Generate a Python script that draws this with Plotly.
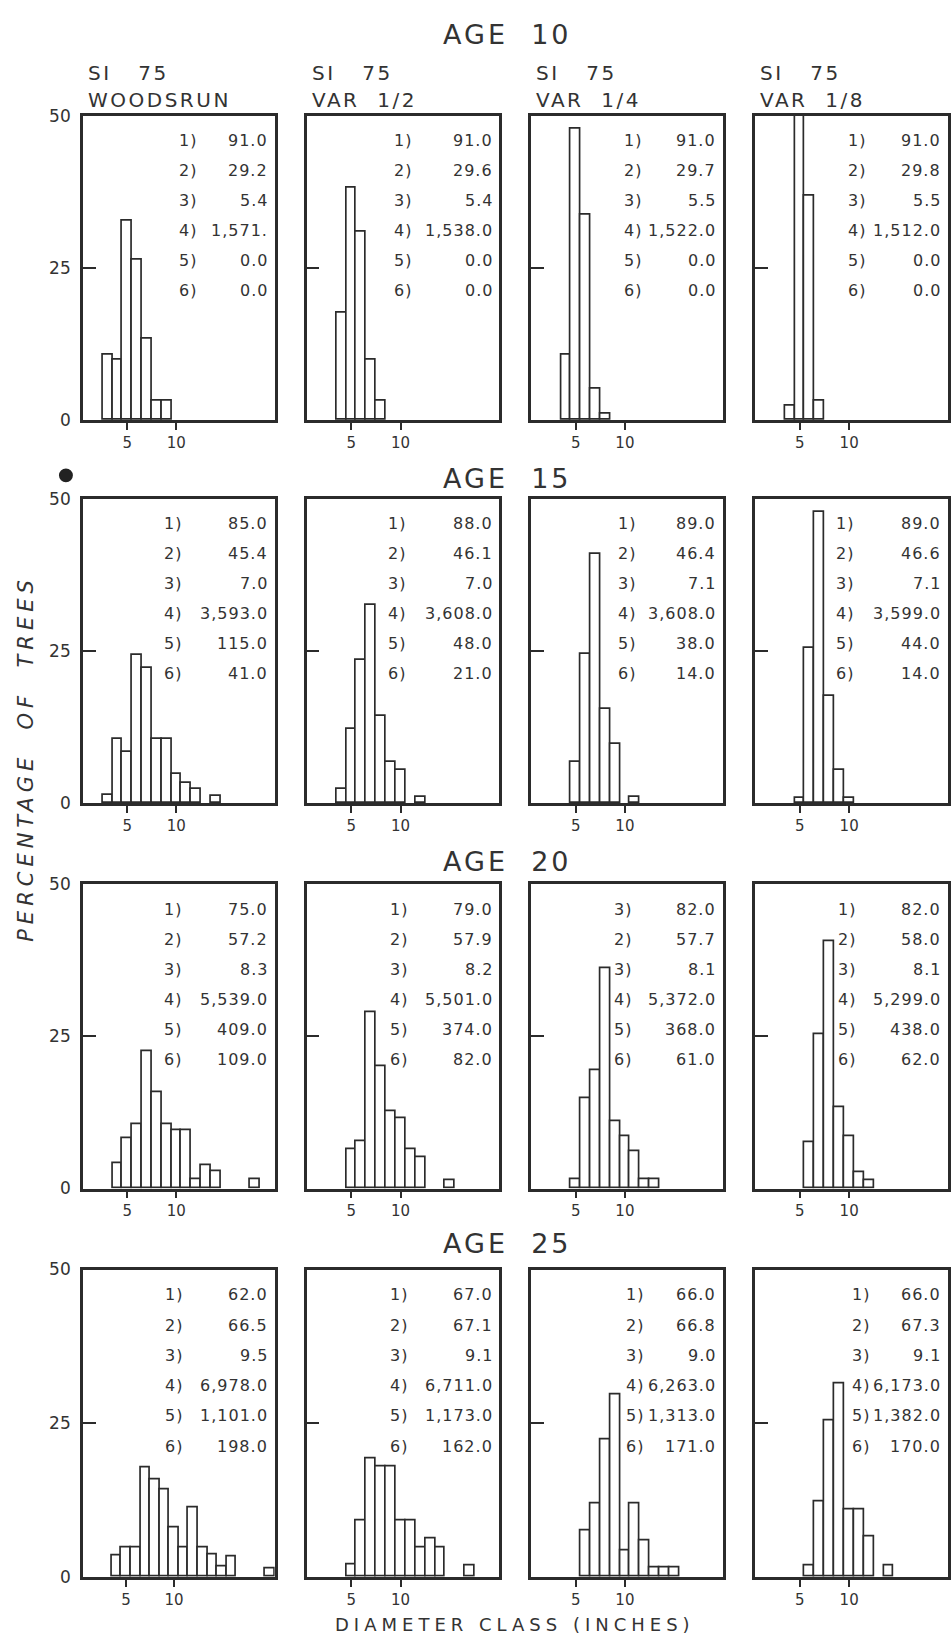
import plotly.graph_objects as go
from plotly.subplots import make_subplots

# ---------------- data ----------------
age_titles = ["AGE 10", "AGE 15", "AGE 20", "AGE 25"]
site_index = ["SI 75", "SI 75", "SI 75", "SI 75"]
run_names = ["WOODSRUN", "VAR 1/2", "VAR 1/4", "VAR 1/8"]
x_tick_vals = [5, 10]
x_tick_text = ["5", "10"]
y_tick_vals = [0, 25, 50]
y_tick_text = ["0", "25", "50"]
stat_keys = ["1)", "2)", "3)", "4)", "5)", "6)"]
stat_keys_age20_var4 = ["3)", "2)", "3)", "4)", "5)", "6)"]

# AGE 10 : diameter class (inches) / percentage of trees
age10_woodsrun_class = [3, 4, 5, 6, 7, 8, 9]
age10_woodsrun_pct = [10.8, 9.9, 32.8, 26.3, 13.3, 3.1, 3.1]
age10_var2_class = [4, 5, 6, 7, 8]
age10_var2_pct = [17.6, 38.2, 30.9, 9.9, 3.2]
age10_var4_class = [4, 5, 6, 7, 8]
age10_var4_pct = [10.8, 47.8, 33.7, 5.1, 1.1]
age10_var8_class = [4, 5, 6, 7]
age10_var8_pct = [2.4, 57.0, 36.9, 3.1]

# AGE 15
age15_woodsrun_class = [3, 4, 5, 6, 7, 8, 9, 10, 11, 12, 14]
age15_woodsrun_pct = [1.3, 10.6, 8.5, 24.4, 22.2, 10.5, 10.5, 4.8, 3.4, 2.4, 1.2]
age15_var2_class = [4, 5, 6, 7, 8, 9, 10, 12]
age15_var2_pct = [2.3, 12.2, 23.6, 32.5, 14.4, 6.8, 5.5, 1.1]
age15_var4_class = [5, 6, 7, 8, 9, 11]
age15_var4_pct = [6.8, 24.5, 41.0, 15.5, 9.8, 1.1]
age15_var8_class = [5, 6, 7, 8, 9, 10]
age15_var8_pct = [0.9, 25.5, 47.9, 17.7, 5.4, 0.9]

# AGE 20
age20_woodsrun_class = [4, 5, 6, 7, 8, 9, 10, 11, 12, 13, 14, 18]
age20_woodsrun_pct = [4.2, 8.2, 10.6, 22.6, 15.9, 10.6, 9.5, 9.5, 1.5, 3.9, 2.8, 1.5]
age20_var2_class = [5, 6, 7, 8, 9, 10, 11, 12, 15]
age20_var2_pct = [6.5, 7.8, 29.0, 20.1, 12.7, 11.5, 6.5, 5.2, 1.3]
age20_var4_class = [5, 6, 7, 8, 9, 10, 11, 12, 13]
age20_var4_pct = [1.5, 14.9, 19.5, 36.2, 11.1, 8.6, 6.2, 1.5, 1.5]
age20_var8_class = [6, 7, 8, 9, 10, 11, 12]
age20_var8_pct = [7.6, 25.3, 40.6, 13.4, 8.6, 2.7, 1.3]

# AGE 25
age25_woodsrun_class = [4, 5, 6, 7, 8, 9, 10, 11, 12, 13, 14, 15, 16, 20]
age25_woodsrun_pct = [3.4, 4.8, 4.8, 17.7, 15.9, 14.2, 8.0, 4.8, 11.2, 4.8, 3.6, 1.6, 3.3, 1.4]
age25_var2_class = [5, 6, 7, 8, 9, 10, 11, 12, 13, 14, 17]
age25_var2_pct = [2.0, 9.2, 19.3, 18.0, 18.0, 9.2, 9.2, 4.8, 6.2, 4.8, 1.9]
age25_var4_class = [6, 7, 8, 9, 10, 11, 12, 13, 14, 15]
age25_var4_pct = [7.5, 12.0, 22.3, 29.7, 4.3, 11.9, 5.9, 1.5, 1.5, 1.5]
age25_var8_class = [6, 7, 8, 9, 10, 11, 12, 14]
age25_var8_pct = [1.9, 12.2, 25.5, 31.5, 10.9, 10.9, 6.5, 1.9]

# stand statistics printed in each panel (1..6)
age10_stats = [["91.0", "29.2", "5.4", "1,571.", "0.0", "0.0"],
               ["91.0", "29.6", "5.4", "1,538.0", "0.0", "0.0"],
               ["91.0", "29.7", "5.5", "1,522.0", "0.0", "0.0"],
               ["91.0", "29.8", "5.5", "1,512.0", "0.0", "0.0"]]
age15_stats = [["85.0", "45.4", "7.0", "3,593.0", "115.0", "41.0"],
               ["88.0", "46.1", "7.0", "3,608.0", "48.0", "21.0"],
               ["89.0", "46.4", "7.1", "3,608.0", "38.0", "14.0"],
               ["89.0", "46.6", "7.1", "3,599.0", "44.0", "14.0"]]
age20_stats = [["75.0", "57.2", "8.3", "5,539.0", "409.0", "109.0"],
               ["79.0", "57.9", "8.2", "5,501.0", "374.0", "82.0"],
               ["82.0", "57.7", "8.1", "5,372.0", "368.0", "61.0"],
               ["82.0", "58.0", "8.1", "5,299.0", "438.0", "62.0"]]
age25_stats = [["62.0", "66.5", "9.5", "6,978.0", "1,101.0", "198.0"],
               ["67.0", "67.1", "9.1", "6,711.0", "1,173.0", "162.0"],
               ["66.0", "66.8", "9.0", "6,263.0", "1,313.0", "171.0"],
               ["66.0", "67.3", "9.1", "6,173.0", "1,382.0", "170.0"]]

panel_classes = [
    [age10_woodsrun_class, age10_var2_class, age10_var4_class, age10_var8_class],
    [age15_woodsrun_class, age15_var2_class, age15_var4_class, age15_var8_class],
    [age20_woodsrun_class, age20_var2_class, age20_var4_class, age20_var8_class],
    [age25_woodsrun_class, age25_var2_class, age25_var4_class, age25_var8_class],
]
panel_pcts = [
    [age10_woodsrun_pct, age10_var2_pct, age10_var4_pct, age10_var8_pct],
    [age15_woodsrun_pct, age15_var2_pct, age15_var4_pct, age15_var8_pct],
    [age20_woodsrun_pct, age20_var2_pct, age20_var4_pct, age20_var8_pct],
    [age25_woodsrun_pct, age25_var2_pct, age25_var4_pct, age25_var8_pct],
]
panel_stats = [age10_stats, age15_stats, age20_stats, age25_stats]

# ---------------- layout geometry ----------------
W, H = 951, 1650
col_px = [(83, 275), (307, 500), (532, 724), (756, 949)]
row_px = [(107, 415), (495, 803), (885, 1193), (1275, 1586)]
title_y_px = [25, 474, 862, 1249]
label_x = [[0.49, 0.44, 0.47, 0.47],
           [0.41, 0.41, 0.44, 0.41],
           [0.41, 0.42, 0.42, 0.42],
           [0.42, 0.42, 0.48, 0.49]]
x_max = [[20.0, 20.0, 20.0, 20.0],
         [20.0, 20.0, 20.0, 20.0],
         [20.0, 20.0, 20.0, 20.0],
         [20.5, 20.0, 20.0, 20.0]]

INK = "#2b2b2b"
TXT = "#333333"
FONT = "DejaVu Sans"


def spaced(text, px):
    return f'<span style="letter-spacing:{px}px">{text}</span>'


fig = make_subplots(rows=4, cols=4)

annotations = []
for r in range(4):
    for c in range(4):
        n = r * 4 + c + 1
        fig.add_trace(
            go.Bar(
                x=panel_classes[r][c],
                y=panel_pcts[r][c],
                width=1.0,
                marker=dict(color="white", line=dict(color=INK, width=1.7)),
                showlegend=False,
                hoverinfo="x+y",
            ),
            row=r + 1, col=c + 1,
        )
        xa = "xaxis" if n == 1 else f"xaxis{n}"
        ya = "yaxis" if n == 1 else f"yaxis{n}"
        x0, x1 = col_px[c]
        y0, y1 = row_px[r]
        fig.layout[xa].update(
            domain=[x0 / W, x1 / W],
            range=[0.5, x_max[r][c]],
            tickvals=x_tick_vals, ticktext=x_tick_text,
            ticks="outside", ticklen=7, tickwidth=2, tickcolor=INK,
            showline=True, linecolor=INK, linewidth=2.5, mirror=True,
            showgrid=False, zeroline=False,
            tickfont=dict(family=FONT, size=15, color=TXT),
        )
        fig.layout[ya].update(
            domain=[1 - y1 / H, 1 - y0 / H],
            range=[0, 50],
            tickvals=y_tick_vals, ticktext=y_tick_text,
            ticks="inside", ticklen=13, tickwidth=2, tickcolor=INK,
            showticklabels=(c == 0),
            ticklabelstandoff=6,
            showline=True, linecolor=INK, linewidth=2.5, mirror=True,
            showgrid=False, zeroline=False,
            tickfont=dict(family=FONT, size=17, color=TXT),
        )
        xref = "x domain" if n == 1 else f"x{n} domain"
        yref = "y domain" if n == 1 else f"y{n} domain"
        keys = stat_keys_age20_var4 if (r == 2 and c == 2) else stat_keys
        for i in range(6):
            yy = 0.918 - i * 0.0985
            annotations.append(dict(
                text=spaced(keys[i], 1), xref=xref, yref=yref, x=label_x[r][c], y=yy,
                xanchor="left", yanchor="middle", showarrow=False,
                font=dict(family=FONT, size=16, color=TXT)))
            annotations.append(dict(
                text=spaced(panel_stats[r][c][i], 1), xref=xref, yref=yref, x=0.975, y=yy,
                xanchor="right", yanchor="middle", showarrow=False,
                font=dict(family=FONT, size=16, color=TXT)))

# age titles
for r in range(4):
    annotations.append(dict(
        text=spaced(age_titles[r].replace(" ", "\u00a0\u00a0"), 3), xref="paper", yref="paper",
        x=508 / W, y=1 - title_y_px[r] / H, xanchor="center", yanchor="middle",
        showarrow=False, font=dict(family=FONT, size=27, color=TXT)))

# column headings
for c in range(4):
    annotations.append(dict(
        text=spaced(site_index[c].replace(" ", "\u00a0\u00a0\u00a0"), 2.5), xref="paper", yref="paper",
        x=(col_px[c][0] + 3) / W, y=1 - 64 / H, xanchor="left", yanchor="middle",
        showarrow=False, font=dict(family=FONT, size=20, color=TXT)))
    annotations.append(dict(
        text=spaced(run_names[c].replace(" ", "\u00a0\u00a0"), 2.5), xref="paper", yref="paper",
        x=(col_px[c][0] + 3) / W, y=1 - 91 / H, xanchor="left", yanchor="middle",
        showarrow=False, font=dict(family=FONT, size=20, color=TXT)))

# axis titles
annotations.append(dict(
    text="<i>" + spaced("PERCENTAGE\u00a0\u00a0OF\u00a0\u00a0TREES", 5) + "</i>",
    xref="paper", yref="paper",
    x=26 / W, y=1 - 757 / H, xanchor="center", yanchor="middle", textangle=-90,
    showarrow=False, font=dict(family=FONT, size=21, color=TXT)))
annotations.append(dict(
    text=spaced("DIAMETER\u00a0CLASS\u00a0(INCHES)", 5), xref="paper", yref="paper",
    x=516 / W, y=1 - 1634 / H, xanchor="center", yanchor="middle",
    showarrow=False, font=dict(family=FONT, size=18, color=TXT)))

fig.update_layout(
    width=W, height=H, autosize=False,
    margin=dict(l=0, r=0, t=0, b=0),
    paper_bgcolor="white", plot_bgcolor="white",
    bargap=0, annotations=annotations,
    shapes=[dict(type="circle", xref="paper", yref="paper",
                 x0=59 / W, x1=73 / W, y0=1 - 478 / H, y1=1 - 464 / H,
                 fillcolor="#222222", line=dict(width=0))],
)

fig.write_html("out.html")
